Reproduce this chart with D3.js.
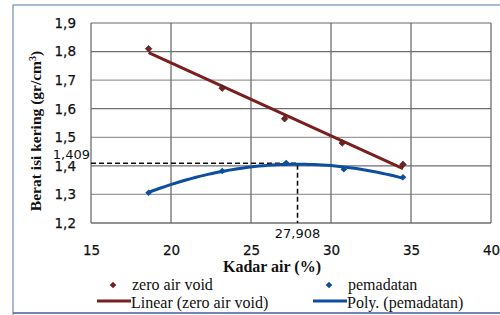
<!DOCTYPE html>
<html>
<head>
<meta charset="utf-8">
<script src="https://cdn.jsdelivr.net/npm/d3@7"></script>
<style>
  body { margin: 0; background: #fff; }
</style>
</head>
<body>
<div id="chart"></div>
<script>
const zavX = [18.6, 23.2, 27.1, 30.7, 34.5];
const zavY = [1.81, 1.672, 1.565, 1.48, 1.405];
const pemX = [18.6, 23.2, 27.2, 30.8, 34.5];
const pemY = [1.306, 1.382, 1.41, 1.388, 1.36];
const xTicks = [15, 20, 25, 30, 35, 40];
const yTicks = [1.2, 1.3, 1.4, 1.5, 1.6, 1.7, 1.8, 1.9];
const optX = 27.908;
const optY = 1.409;
const legendItems = ["zero air void", "pemadatan", "Linear (zero air void)", "Poly. (pemadatan)"];

const W = 500, H = 315;
const plot = { left: 91, right: 491, top: 23, bottom: 223 };
const RED = "#7a1f1f", BLUE = "#0d4f9e";

const svg = d3.select("#chart").append("svg")
    .attr("width", W).attr("height", H);

// outer border
svg.append("path").attr("d", `M13,${H} L13,5 L${W},5`)
   .attr("fill", "none").attr("stroke", "#8aa6c4").attr("stroke-width", 1.5);
svg.append("line").attr("x1", 13).attr("x2", W).attr("y1", 313).attr("y2", 313)
   .attr("stroke", "#3f6296").attr("stroke-width", 1.5);

const x = d3.scaleLinear().domain([15, 40]).range([plot.left, plot.right]);
const y = d3.scaleLinear().domain([1.2, 1.9]).range([plot.bottom, plot.top]);
const fmt = d => d3.format(".1f")(d).replace(".", ",");
const fmt3 = v => d3.format(".3f")(v).replace(".", ",");

// grid
svg.append("g").selectAll("line").data(yTicks).enter().append("line")
   .attr("x1", plot.left).attr("x2", plot.right)
   .attr("y1", d => y(d)).attr("y2", d => y(d))
   .attr("stroke", (d, i) => i % 2 ? "#9a9a9a" : "#6e6e6e").attr("stroke-width", 1.3);
svg.append("g").selectAll("line").data(xTicks).enter().append("line")
   .attr("x1", d => x(d)).attr("x2", d => x(d))
   .attr("y1", plot.top).attr("y2", plot.bottom)
   .attr("stroke", "#6e6e6e").attr("stroke-width", 1.3);

// axes labels
const yAxis = d3.axisLeft(y).tickValues(yTicks).tickFormat(fmt).tickSize(0).tickPadding(15);
const yG = svg.append("g").attr("transform", `translate(${plot.left},0)`).call(yAxis);
yG.select(".domain").remove();
yG.selectAll("text").attr("font-family", "DejaVu Sans").attr("font-size", 13.5)
  .attr("fill", "#111").attr("stroke", "#111").attr("stroke-width", 0.25);

const xAxis = d3.axisBottom(x).tickValues(xTicks).tickSize(0).tickPadding(22);
const xG = svg.append("g").attr("transform", `translate(0,${plot.bottom})`).call(xAxis);
xG.select(".domain").remove();
xG.selectAll("text").attr("font-family", "DejaVu Sans").attr("font-size", 13.5)
  .attr("fill", "#111").attr("stroke", "#111").attr("stroke-width", 0.25);

// titles
svg.append("text").attr("transform", `translate(41,${(plot.top + plot.bottom) / 2 + 8}) rotate(-90)`)
   .attr("text-anchor", "middle").attr("font-family", "Liberation Serif").attr("font-weight", "bold")
   .attr("font-size", 15.5).attr("fill", "#111")
   .html('Berat isi kering (gr/cm<tspan dy="-5" font-size="10">3</tspan><tspan dy="5">)</tspan>');
svg.append("text").attr("x", 272).attr("y", 272).attr("text-anchor", "middle")
   .attr("font-family", "Liberation Serif").attr("font-weight", "bold").attr("font-size", 16)
   .attr("fill", "#111").text("Kadar air (%)");

// regressions
function linFit(xs, ys) {
  const mx = d3.mean(xs), my = d3.mean(ys);
  const b = d3.sum(xs, (v, i) => (v - mx) * (ys[i] - my)) / d3.sum(xs, v => (v - mx) ** 2);
  return [my - b * mx, b];
}
function quadFit(xs, ys) {
  const n = xs.length;
  const s = k => d3.sum(xs, v => v ** k);
  const t = k => d3.sum(xs, (v, i) => v ** k * ys[i]);
  const A = [[n, s(1), s(2), t(0)], [s(1), s(2), s(3), t(1)], [s(2), s(3), s(4), t(2)]];
  for (let i = 0; i < 3; i++) {
    for (let j = i + 1; j < 3; j++) {
      const f = A[j][i] / A[i][i];
      for (let k = i; k < 4; k++) A[j][k] -= f * A[i][k];
    }
  }
  const c = [0, 0, 0];
  for (let i = 2; i >= 0; i--) {
    let v = A[i][3];
    for (let k = i + 1; k < 3; k++) v -= A[i][k] * c[k];
    c[i] = v / A[i][i];
  }
  return c;
}
const lc = linFit(zavX, zavY);
const qc = quadFit(pemX, pemY);
const line = d3.line().x(d => x(d[0])).y(d => y(d[1]));
const x0 = d3.min(pemX), x1 = d3.max(pemX);
const polyPts = d3.range(0, 61).map(i => {
  const xv = x0 + (x1 - x0) * i / 60;
  return [xv, qc[0] + qc[1] * xv + qc[2] * xv * xv];
});

// dashed optimum lines
svg.append("path").attr("d", line([[15, optY], [optX, optY], [optX, 1.2]]))
   .attr("fill", "none").attr("stroke", "#111").attr("stroke-width", 1.6).attr("stroke-dasharray", "5,3");

svg.append("path").attr("d", line([[d3.min(zavX), lc[0] + lc[1] * d3.min(zavX)], [d3.max(zavX), lc[0] + lc[1] * d3.max(zavX)]]))
   .attr("fill", "none").attr("stroke", RED).attr("stroke-width", 3);
svg.append("path").attr("d", line(polyPts))
   .attr("fill", "none").attr("stroke", BLUE).attr("stroke-width", 3);

const diamond = d3.symbol().type(d3.symbolSquare).size(22);
svg.append("g").selectAll("path").data(zavX).enter().append("path")
   .attr("d", diamond).attr("transform", (d, i) => `translate(${x(d)},${y(zavY[i])}) rotate(45)`).attr("fill", RED)
   .attr("stroke", "#222").attr("stroke-width", 0.6);
svg.append("g").selectAll("path").data(pemX).enter().append("path")
   .attr("d", diamond).attr("transform", (d, i) => `translate(${x(d)},${y(pemY[i])}) rotate(45)`).attr("fill", BLUE);

// optimum labels
svg.append("text").attr("x", plot.left - 1).attr("y", y(optY) - 4).attr("text-anchor", "end")
   .attr("font-family", "DejaVu Sans").attr("font-size", 13).attr("fill", "#111").text(fmt3(optY));
svg.append("text").attr("x", x(optX)).attr("y", plot.bottom + 15).attr("text-anchor", "middle")
   .attr("font-family", "DejaVu Sans").attr("font-size", 13).attr("fill", "#111").text(fmt3(optX));

// legend
const leg = [
  { x: 113, y: 287, type: "dot", color: RED, label: legendItems[0] },
  { x: 329, y: 287, type: "dot", color: BLUE, label: legendItems[1] },
  { x: 97, y: 305, type: "line", color: RED, label: legendItems[2] },
  { x: 313, y: 305, type: "line", color: BLUE, label: legendItems[3] },
];
const lg = svg.append("g").selectAll("g").data(leg).enter().append("g");
lg.filter(d => d.type === "dot").append("path").attr("d", diamond)
  .attr("transform", d => `translate(${d.x},${d.y - 2}) rotate(45)`).attr("fill", d => d.color);
lg.filter(d => d.type === "line").append("line")
  .attr("x1", d => d.x).attr("x2", d => d.x + 34).attr("y1", d => d.y - 4).attr("y2", d => d.y - 4)
  .attr("stroke", d => d.color).attr("stroke-width", 3);
lg.append("text").attr("x", d => d.type === "dot" ? d.x + 19 : d.x + 34).attr("y", d => d.y + 3)
  .attr("font-family", "Liberation Serif").attr("font-size", 16).attr("fill", "#111").text(d => d.label);
</script>
</body>
</html>
